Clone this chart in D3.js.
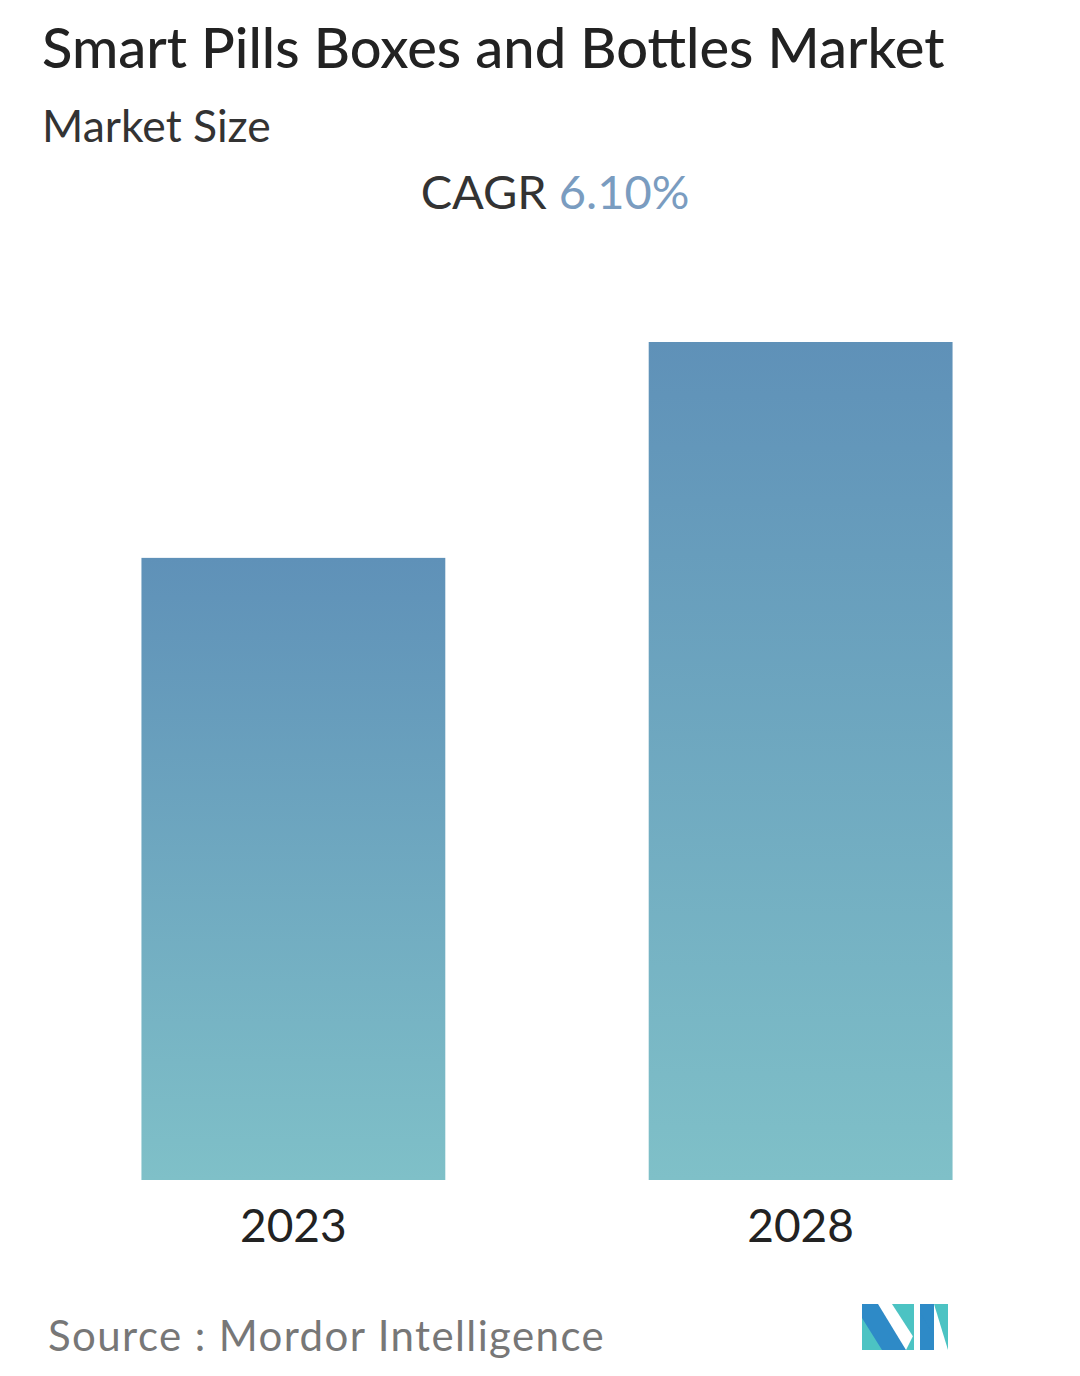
<!DOCTYPE html>
<html><head><meta charset="utf-8">
<script src="https://cdn.jsdelivr.net/npm/d3@7"></script>
<style>body{margin:0;background:#fff}</style>
</head><body>
<svg id="c" width="1080" height="1376"></svg>
<script>
const categories = ["2023", "2028"];
const values = [1.0, 1.347];
const title = "Smart Pills Boxes and Bottles Market";
const subtitle = "Market Size";
const cagrLabel = "CAGR";
const cagrValue = "6.10%";
const source = "Source :  Mordor Intelligence";

const svg = d3.select("#c");
const font = "Lato, 'Open Sans', sans-serif";
const defs = svg.append("defs");
const g = defs.append("linearGradient").attr("id","bg").attr("x1",0).attr("y1",0).attr("x2",0).attr("y2",1);
g.append("stop").attr("offset","0%").attr("stop-color","#5f91b8");
g.append("stop").attr("offset","100%").attr("stop-color","#7fc0c8");

svg.append("text").attr("x",42).attr("y",68).attr("font-family",font).attr("font-size",56).attr("font-weight",500).attr("fill","#222").text(title);
svg.append("text").attr("x",42).attr("y",142).attr("font-family",font).attr("font-size",44.5).attr("fill","#333").text(subtitle);
const ct = svg.append("text").attr("x",555).attr("y",209).attr("text-anchor","middle").attr("font-family",font).attr("font-size",47);
ct.append("tspan").attr("fill","#333").text(cagrLabel+" ");
ct.append("tspan").attr("fill","#7a9cc0").text(cagrValue);

const x = d3.scaleBand().domain(categories).range([40,1054]).paddingInner(0.401).paddingOuter(0.2);
const y = d3.scaleLinear().domain([0, d3.max(values)]).range([1180, 342]);

svg.selectAll("rect.bar").data(categories).join("rect").attr("class","bar")
  .attr("x",d=>x(d)).attr("width",x.bandwidth())
  .attr("y",(d,i)=>y(values[i])).attr("height",(d,i)=>1180-y(values[i]))
  .attr("fill","url(#bg)");

svg.selectAll("text.lab").data(categories).join("text").attr("class","lab")
  .attr("x",d=>x(d)+x.bandwidth()/2).attr("y",1242).attr("text-anchor","middle")
  .attr("font-family",font).attr("font-size",46).attr("fill","#222").text(d=>d);

svg.append("text").attr("x",48).attr("y",1351).attr("font-family",font).attr("font-size",42).attr("fill","#777").attr("letter-spacing",1.4).text(source);

// logo
const L = svg.append("g").attr("transform","translate(862,1304)");
L.append("polygon").attr("points","0,0 16,0 44,46 0,46").attr("fill","#2e8ac7");
L.append("polygon").attr("points","0,14 20,46 0,46").attr("fill","#4cc3c3");
L.append("polygon").attr("points","30,0 52,0 52,34").attr("fill","#4cc3c3");
L.append("polygon").attr("points","52,30 52,46 44,46").attr("fill","#4cc3c3");
L.append("polygon").attr("points","58,0 72,0 72,46 58,46").attr("fill","#2e8ac7");
L.append("polygon").attr("points","72,0 86,0 86,46").attr("fill","#4cc3c3");
L.append("polygon").attr("points","58,8 72,32 72,46 58,46").attr("fill","#2e8ac7");
</script>
</body></html>
